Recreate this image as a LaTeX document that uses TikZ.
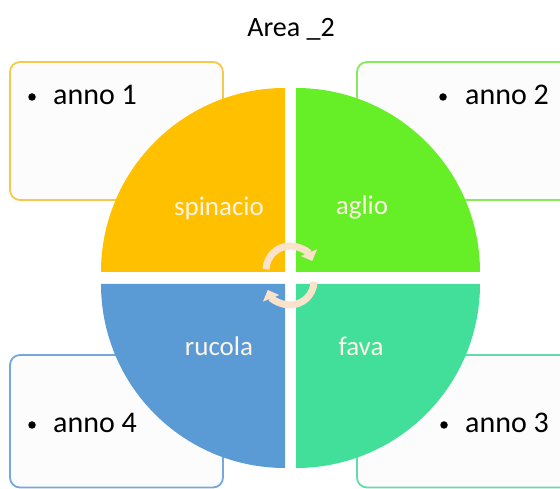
\documentclass[tikz,border=0pt]{standalone}
\usepackage{fontspec}
\setmainfont{Carlito}
\usetikzlibrary{arrows.meta}
\definecolor{cOrange}{HTML}{FFC000}
\definecolor{cGreen}{HTML}{66EE26}
\definecolor{cBlue}{HTML}{5B9BD5}
\definecolor{cTeal}{HTML}{42DF9A}
\definecolor{bOrange}{HTML}{F8C84A}
\definecolor{bGreen}{HTML}{86EA5A}
\definecolor{bBlue}{HTML}{75A8DC}
\definecolor{bTeal}{HTML}{62DDA8}
\definecolor{boxFill}{HTML}{FCFCFC}
\definecolor{cream}{HTML}{FDF4E6}
\definecolor{arrowCol}{HTML}{FBE3CB}
\tikzset{
  infobox/.style={line width=1.8pt, rounded corners=10pt, fill=boxFill},
  annotext/.style={anchor=base west, inner sep=0pt, font=\fontsize{30}{36}\selectfont, text=black},
  bulletdot/.style={circle, fill=black, inner sep=0pt, minimum size=7.5pt},
  quadlabel/.style={anchor=base, inner sep=0pt, font=\fontsize{27}{32}\selectfont, text=cream},
  cyclearrow/.style={draw=arrowCol, line width=7pt, -{Triangle[width=17pt,length=9pt]}},
}
\begin{document}
\begin{tikzpicture}[x=1pt,y=1pt]
\useasboundingbox (0,0) rectangle (560,489);
\clip (0,0) rectangle (560,489);
\fill[white] (0,0) rectangle (560,489);
% title
\node[anchor=base, inner sep=0pt, font=\fontsize{28}{34}\selectfont] (title) at (291,452) {Area \_2};
% boxes
\draw[infobox, draw=bOrange] (10,289) rectangle (223,427);
\draw[infobox, draw=bGreen] (357,289) rectangle (590,427);
\draw[infobox, draw=bBlue] (10,1.5) rectangle (223,134);
\draw[infobox, draw=bTeal] (357,1.5) rectangle (590,134);
% box texts
\node[bulletdot] (b1) at (32,392) {};
\node[annotext] (t1) at (53,384) {anno 1};
\node[bulletdot] (b2) at (443,392) {};
\node[annotext] (t2) at (465,384) {anno 2};
\node[bulletdot] (b4) at (32,64) {};
\node[annotext] (t4) at (53,56) {anno 4};
\node[bulletdot] (b3) at (444,64) {};
\node[annotext] (t3) at (465,56) {anno 3};
% quadrants
\fill[cOrange] (285,217) -- ++(-184,0) arc[start angle=180,end angle=90,radius=184] -- cycle;
\fill[cGreen] (296,217) -- ++(0,184) arc[start angle=90,end angle=0,radius=184] -- cycle;
\fill[cBlue] (285,205) -- ++(-184,0) arc[start angle=180,end angle=270,radius=184] -- cycle;
\fill[cTeal] (296,205) -- ++(184,0) arc[start angle=0,end angle=-90,radius=184] -- cycle;
% labels
\node[quadlabel] (l1) at (219,273) {spinacio};
\node[quadlabel] (l2) at (362,274) {aglio};
\node[quadlabel] (l4) at (219,133) {rucola};
\node[quadlabel] (l3) at (361,133) {fava};
% cycle arrows
\coordinate (cu) at (290,219);
\coordinate (cl) at (290,208);
\draw[cyclearrow] (cu) ++(178:24) arc[start angle=178,end angle=22,radius=24];
\draw[cyclearrow] (cl) ++(-2:24) arc[start angle=-2,end angle=-158,radius=24];
\end{tikzpicture}
\end{document}
